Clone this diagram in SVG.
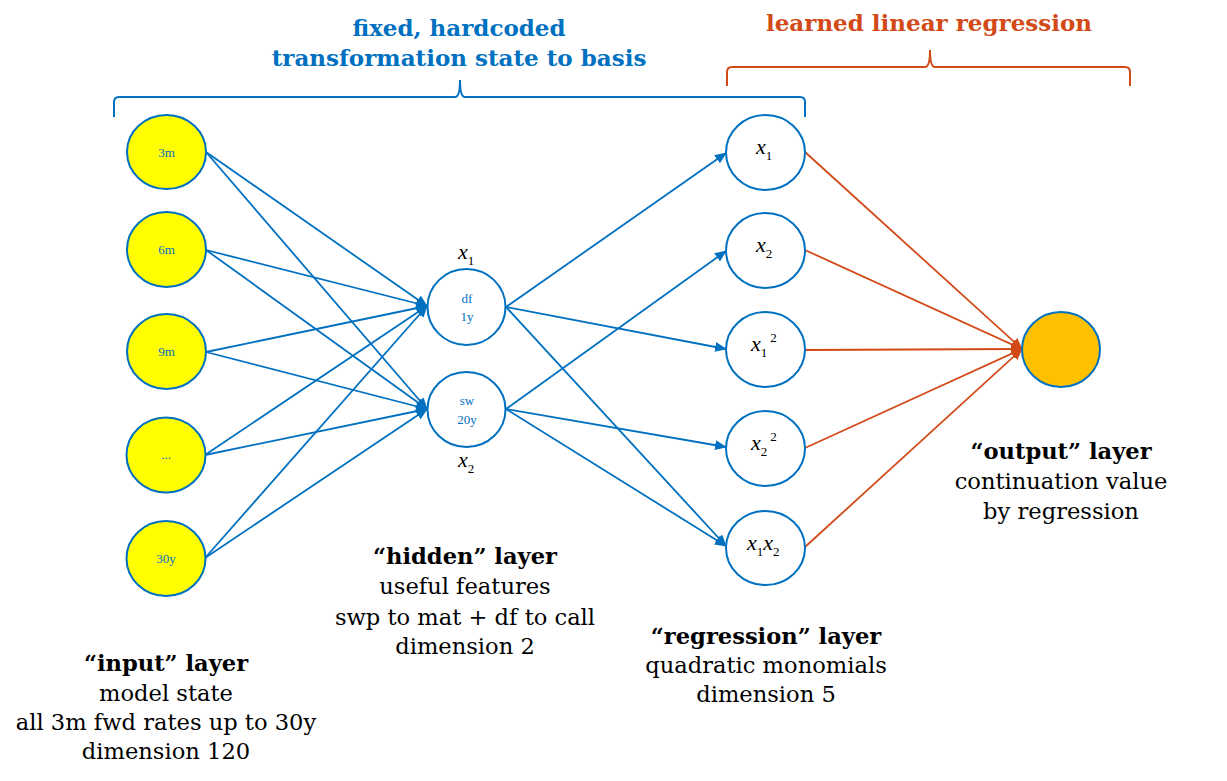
<svg xmlns="http://www.w3.org/2000/svg" width="1227" height="781" viewBox="0 0 1227 781">
<style>
.lbl{font-family:"DejaVu Serif","Liberation Serif",serif;font-size:22.6px;fill:#000;text-anchor:middle}
.b{font-weight:bold}
.ttl{font-family:"DejaVu Serif","Liberation Serif",serif;font-size:23px;font-weight:bold;text-anchor:middle}
.nt{font-family:"Liberation Serif",serif;font-size:13px;fill:#0070C0;text-anchor:middle}
.mx{font-family:"Liberation Serif",serif;font-style:italic;font-size:22px;fill:#000}
.sub{font-style:normal;font-size:13px}
.inp{fill:#FFFF00;stroke:#0070C0;stroke-width:2}
.wn{fill:#fff;stroke:#0070C0;stroke-width:2}
.out{fill:#FFC000;stroke:#0070C0;stroke-width:2}
.cb{stroke:#0070C0;stroke-width:1.8;fill:none;marker-end:url(#ab)}
.co{stroke:#D24A18;stroke-width:1.8;fill:none;marker-end:url(#ao)}
</style>
<defs>
<marker id="ab" markerWidth="12" markerHeight="10" refX="11" refY="5" orient="auto" markerUnits="userSpaceOnUse"><path d="M0,0 L12,5 L0,10 z" fill="#0070C0"/></marker>
<marker id="ao" markerWidth="12" markerHeight="10" refX="11" refY="5" orient="auto" markerUnits="userSpaceOnUse"><path d="M0,0 L12,5 L0,10 z" fill="#D24A18"/></marker>
</defs>
<g id="braces">
<path d="M114,117 V102 Q114,97 119,97 H455 Q460,97 460,80 Q460,97 465,97 H800 Q805,97 805,102 V117" fill="none" stroke="#0070C0" stroke-width="2"/>
<text class="ttl" x="459" y="36" fill="#0070C0">fixed, hardcoded</text>
<text class="ttl" x="459" y="66" fill="#0070C0">transformation state to basis</text>
<path d="M727,86 V72 Q727,67 732,67 H925 Q930,67 930,50 Q930,67 935,67 H1125 Q1130,67 1130,72 V86" fill="none" stroke="#D24A18" stroke-width="2"/>
<text class="ttl" x="929" y="31" fill="#D24A18">learned linear regression</text>
</g>
<g id="connectors">
<line class="cb" x1="206" y1="152" x2="427" y2="306"/>
<line class="cb" x1="206" y1="152" x2="427" y2="409"/>
<line class="cb" x1="206" y1="250" x2="427" y2="306"/>
<line class="cb" x1="206" y1="250" x2="427" y2="409"/>
<line class="cb" x1="206" y1="352" x2="427" y2="306"/>
<line class="cb" x1="206" y1="352" x2="427" y2="409"/>
<line class="cb" x1="205" y1="455" x2="427" y2="306"/>
<line class="cb" x1="205" y1="455" x2="427" y2="409"/>
<line class="cb" x1="205" y1="558" x2="427" y2="306"/>
<line class="cb" x1="205" y1="558" x2="427" y2="409"/>
<line class="cb" x1="506" y1="307" x2="726" y2="153"/>
<line class="cb" x1="506" y1="307" x2="726" y2="349"/>
<line class="cb" x1="506" y1="307" x2="726" y2="546"/>
<line class="cb" x1="506" y1="409" x2="726" y2="251"/>
<line class="cb" x1="506" y1="409" x2="726" y2="447"/>
<line class="cb" x1="506" y1="409" x2="726" y2="546"/>
<line class="co" x1="805" y1="152" x2="1022" y2="349"/>
<line class="co" x1="805" y1="250" x2="1022" y2="349"/>
<line class="co" x1="805" y1="350" x2="1022" y2="349"/>
<line class="co" x1="805" y1="448" x2="1022" y2="349"/>
<line class="co" x1="805" y1="547" x2="1022" y2="349"/>
</g>
<g id="in3m"><ellipse class="inp" cx="166.5" cy="152" rx="39.5" ry="37"/><text class="nt" x="166.5" y="156.5">3m</text></g>
<g id="in6m"><ellipse class="inp" cx="166.5" cy="249.5" rx="39.5" ry="37.5"/><text class="nt" x="166.5" y="254">6m</text></g>
<g id="in9m"><ellipse class="inp" cx="166.5" cy="351.5" rx="39.5" ry="37.5"/><text class="nt" x="166.5" y="356">9m</text></g>
<g id="indots"><ellipse class="inp" cx="166" cy="455" rx="39.5" ry="37.5"/><text class="nt" x="166" y="459">...</text></g>
<g id="in30y"><ellipse class="inp" cx="166" cy="558.5" rx="39.5" ry="37.5"/><text class="nt" x="166" y="563">30y</text></g>
<g id="hdf"><ellipse class="wn" cx="466.5" cy="307" rx="39" ry="38"/><text class="nt" x="467" y="303">df</text><text class="nt" x="467" y="321">1y</text>
<text class="mx" x="458" y="259">x<tspan class="sub" dy="6">1</tspan></text></g>
<g id="hsw"><ellipse class="wn" cx="466.5" cy="409.5" rx="39" ry="37.5"/><text class="nt" x="467" y="405">sw</text><text class="nt" x="467" y="424">20y</text>
<text class="mx" x="458" y="467">x<tspan class="sub" dy="6">2</tspan></text></g>
<g id="rx1"><ellipse class="wn" cx="765.5" cy="152.5" rx="39.5" ry="37.5"/><text class="mx" x="756" y="154">x<tspan class="sub" dy="6">1</tspan></text></g>
<g id="rx2"><ellipse class="wn" cx="765.5" cy="250.5" rx="39.5" ry="37.5"/><text class="mx" x="756" y="252">x<tspan class="sub" dy="6">2</tspan></text></g>
<g id="rx1sq"><ellipse class="wn" cx="765.5" cy="349.5" rx="39.5" ry="37.5"/><text class="mx" x="751" y="351">x<tspan class="sub" dy="6">1</tspan><tspan class="sub" dx="3" dy="-15">2</tspan></text></g>
<g id="rx2sq"><ellipse class="wn" cx="765.5" cy="448.5" rx="39.5" ry="37.5"/><text class="mx" x="751" y="450">x<tspan class="sub" dy="6">2</tspan><tspan class="sub" dx="3" dy="-15">2</tspan></text></g>
<g id="rx1x2"><ellipse class="wn" cx="765.5" cy="548" rx="39.5" ry="37"/><text class="mx" x="747" y="550">x<tspan class="sub" dy="6">1</tspan><tspan dy="-6">x</tspan><tspan class="sub" dy="6">2</tspan></text></g>
<g id="output"><ellipse class="out" cx="1061" cy="349.5" rx="39" ry="37.5"/></g>
<g id="labels">
<text class="lbl b" x="166" y="671">“input” layer</text>
<text class="lbl" x="166" y="701">model state</text>
<text class="lbl" x="166" y="730">all 3m fwd rates up to 30y</text>
<text class="lbl" x="166" y="759">dimension 120</text>
<text class="lbl b" x="465" y="564">“hidden” layer</text>
<text class="lbl" x="465" y="594">useful features</text>
<text class="lbl" x="465" y="625">swp to mat + df to call</text>
<text class="lbl" x="465" y="654">dimension 2</text>
<text class="lbl b" x="766" y="644">“regression” layer</text>
<text class="lbl" x="766" y="673">quadratic monomials</text>
<text class="lbl" x="766" y="702">dimension 5</text>
<text class="lbl b" x="1061" y="459">“output” layer</text>
<text class="lbl" x="1061" y="489">continuation value</text>
<text class="lbl" x="1061" y="519">by regression</text>
</g>
</svg>
